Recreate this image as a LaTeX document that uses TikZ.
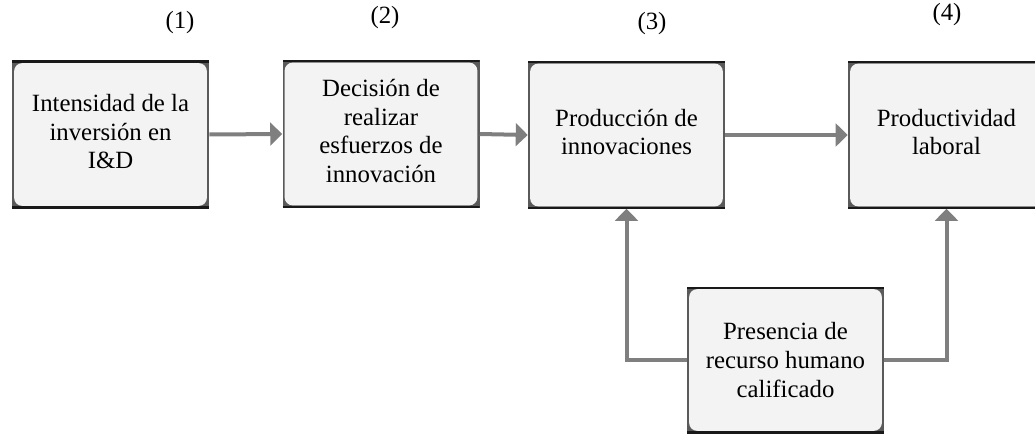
\documentclass[tikz,border=0pt]{standalone}
\usepackage{fontspec}
\setmainfont{Liberation Serif}
\usetikzlibrary{arrows.meta}
\definecolor{boxfill}{HTML}{F3F3F3}
\definecolor{framegray}{HTML}{5A5A5A}
\definecolor{arrgray}{HTML}{7F7F7F}
\newcommand\boxfont{\fontsize{18.6}{21.4}\selectfont}
\tikzset{
  box/.style={rectangle, minimum width=147.75pt, minimum height=110.25pt, inner sep=0pt,
    fill=framegray, align=center, font=\boxfont, text=black,
    path picture={
      \fill[boxfill, rounded corners=6pt]
        ([shift={(1.6pt,-1.6pt)}]path picture bounding box.north west) rectangle
        ([shift={(-1.6pt,1.6pt)}]path picture bounding box.south east);
      \draw[black!90, line width=3pt]
        (path picture bounding box.north west) -- (path picture bounding box.north east)
        (path picture bounding box.south west) -- (path picture bounding box.south east);
    }},
  raised/.style={text depth=4.5pt},
  numlabel/.style={font=\boxfont, text=black, inner sep=0pt},
  arr/.style={draw=arrgray, line width=3pt, -{Triangle[length=9pt,width=17pt]}}
}
\begin{document}
\begin{tikzpicture}[x=0.75pt, y=-0.75pt]
\useasboundingbox (0,0) rectangle (1035,435);
\clip (0,0) rectangle (1035,435);
\node[box, raised] (b1) at (110.5,134.5) {Intensidad de la\\inversión en\\I\&D};
\node[box, raised] (b2) at (381,134) {Decisión de\\realizar\\esfuerzos de\\innovación};
\node[box, raised] (b3) at (626.5,135) {Producción de\\innovaciones};
\node[box, raised] (b4) at (946.5,135) {Productividad\\laboral};
\node[box, minimum height=109.5pt] (b5) at (785.5,360) {Presencia de\\recurso humano\\calificado};
\node[numlabel] (n1) at (180,22.5) {(1)};
\node[numlabel] (n2) at (385,17.5) {(2)};
\node[numlabel] (n3) at (652,24) {(3)};
\node[numlabel] (n4) at (947,15) {(4)};
\draw[arr] (b1.east) -- (b2.west);
\draw[arr] (b2.east) -- (b3.west);
\draw[arr] (b3.east) -- (b4.west);
\draw[arr] (b5.west) -| (b3.south);
\draw[arr] (b5.east) -| (b4.south);
\end{tikzpicture}
\end{document}
